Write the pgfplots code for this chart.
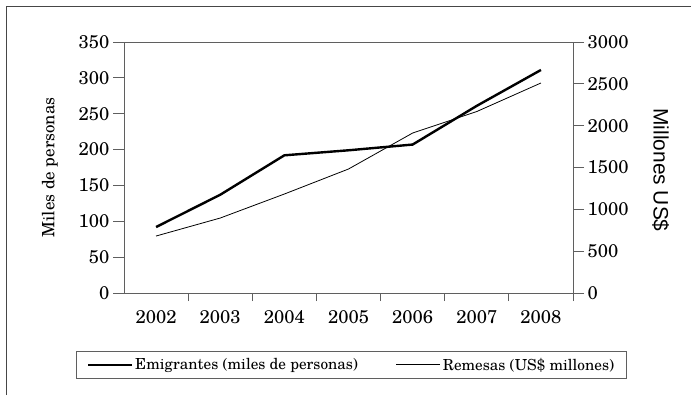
\documentclass[border=0pt]{standalone}
\usepackage{fontspec}
\setmainfont{texgyreschola-regular.otf}
\newfontfamily\arialfont{Liberation Sans}
\usepackage{pgfplots}
\usepackage{pgfplotstable}
\pgfplotsset{compat=1.18}
\definecolor{axgray}{RGB}{95,95,95}
\definecolor{framegray}{RGB}{70,70,70}

\pgfplotstableread{
x emi rem
0.5 92 681
1.5 137 896
2.5 192 1183
3.5 199 1482
4.5 207 1912
5.5 261 2169
6.5 311 2510
}\datatable

\pgfplotsset{
  common/.style={
    at={(124bp,102bp)}, anchor=south west,
    scale only axis, width=449bp, height=251bp,
    xmin=0, xmax=7,
    axis line style={color=axgray, line width=0.9bp},
    every tick/.style={color=axgray, line width=0.9bp},
    tick align=outside,
    major tick length=11bp,
    minor tick length=8bp,
    /pgf/number format/assume math mode=true,
    /pgf/number format/1000 sep={},
    tick label style={font=\fontsize{18.5}{20}\selectfont},
  }
}

\begin{document}
\begin{tikzpicture}[x=1bp,y=1bp]
\path[use as bounding box] (0,0) rectangle (691,395);
\draw[line width=1bp, color=framegray] (6,0) -- (6,388) -- (691,388);

\begin{axis}[
  common,
  ymin=0, ymax=350,
  axis y line*=left,
  xtick={0.5,1.5,2.5,3.5,4.5,5.5,6.5},
  xticklabels={2002,2003,2004,2005,2006,2007,2008},
  major x tick style={draw=none},
  minor xtick={1,2,3,4,5,6,7},
  xtick pos=lower,
  xticklabel style={yshift=-3bp},
  ytick={0,50,...,350},
  ylabel={Miles de personas},
  ylabel style={at={(axis description cs:-0.165,0.5)}, anchor=center, font=\fontsize{17}{19}\selectfont},
]
\addplot[black, line width=2.4bp, line join=round] table[x=x, y=emi]{\datatable};
\end{axis}

\begin{axis}[
  common,
  ymin=0, ymax=3000,
  axis y line*=right,
  axis x line=none,
  ytick={0,500,...,3000},
  ylabel={\arialfont Millones US\$},
  ylabel style={at={(axis description cs:1.195,0.49)}, anchor=center, rotate=180, font=\fontsize{21}{23}\selectfont},
  legend columns=2,
  legend image code/.code={\path (0bp,0bp) -- (44bp,0bp); \draw[#1] (1bp,0bp) -- (41bp,0bp);},
  legend style={
    at={(axis description cs:0.5067,-0.231)}, anchor=north,
    draw=axgray, line width=0.9bp,
    font=\fontsize{15.3}{17}\selectfont,
    inner xsep=10bp, inner ysep=4.5bp,
    /tikz/every even column/.append style={column sep=36bp},
  },
]
\addlegendimage{black, line width=2.4bp}
\addlegendentry{Emigrantes (miles de personas)}
\addplot[black, line width=0.8bp, line join=round] table[x=x, y=rem]{\datatable};
\addlegendentry{Remesas (US\$ millones)}
\end{axis}
\end{tikzpicture}
\end{document}
